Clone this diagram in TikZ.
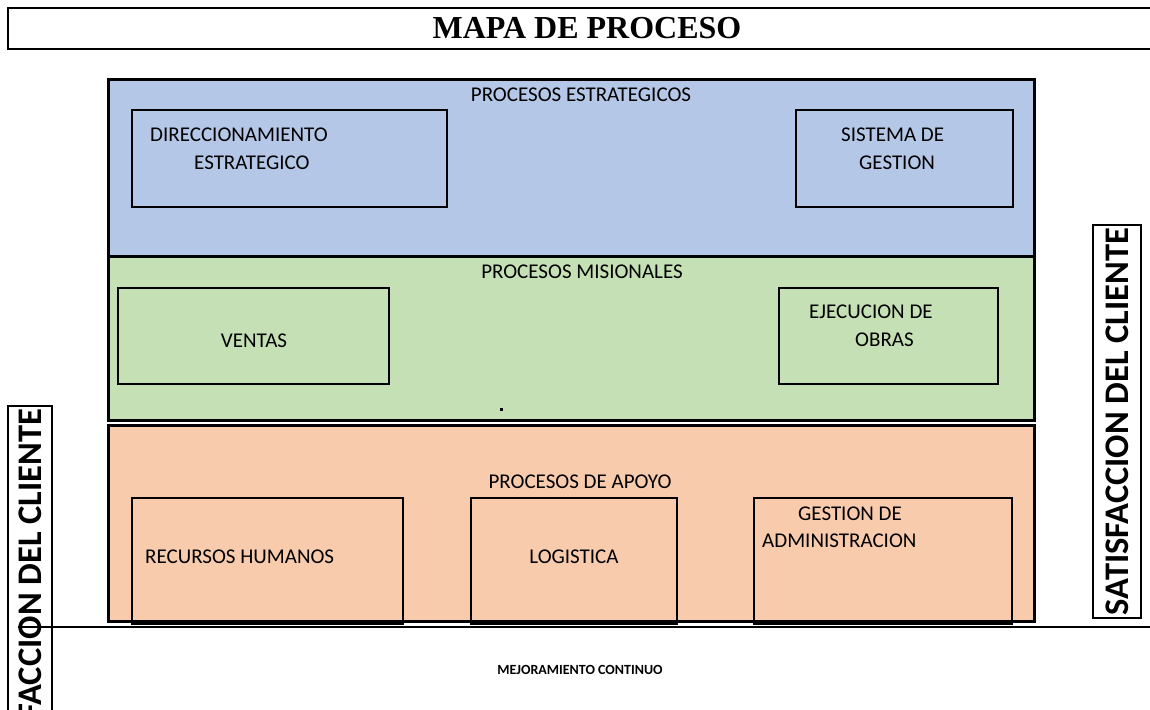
\documentclass[tikz,border=0pt]{standalone}
\usepackage{fontspec}
\setmainfont{Carlito}
\newfontfamily\titlefont{Liberation Serif}
\usetikzlibrary{positioning}
\definecolor{estrbg}{RGB}{180, 199, 231}
\definecolor{misbg}{RGB}{197, 224, 180}
\definecolor{apoyobg}{RGB}{248, 203, 173}
\tikzset{
  band/.style = {
    rectangle, draw=black, line width=3pt,
    fill=#1, minimum width=926pt, inner sep=0pt
  },
  band/.default = white,
  procbox/.style = {
    rectangle, draw=black, line width=1.6pt, inner sep=0pt
  },
  lbl/.style  = {font=\fontsize{21}{25}\selectfont, inner sep=0pt},
  sidelabel/.style = {
    draw=black, line width=2pt, rotate=90,
    font=\fontsize{34.5}{38}\selectfont\bfseries,
    inner xsep=3pt, inner ysep=0pt, minimum height=#1
  },
  sidelabel/.default = 46pt,
  titlebox/.style = {
    draw=black, line width=1.5pt, minimum width=1158pt,
    minimum height=41pt, font=\titlefont\fontsize{32}{36}\selectfont\bfseries
  },
}

\begin{document}
\begin{tikzpicture}[x=1pt, y=-1pt]

  \useasboundingbox (0,0) rectangle (1150,709);
  \clip (0,0) rectangle (1150,709);

  \node[titlebox] (titulo) at (587,28.5) {MAPA DE PROCESO};

  %% bands
  \node[band=estrbg, minimum height=177pt] (estr) at (571,167.5) {};
  \node[band=misbg, minimum height=164pt] (mis) at (571,338) {};
  \node[band=apoyobg, minimum height=196pt] (apoyo) at (571,523) {};

  \node[lbl] (testr) at (581,95) {PROCESOS ESTRATEGICOS};
  \node[lbl] (tmis) at (582,272) {PROCESOS MISIONALES};
  \node[lbl] (tapoyo) at (580,482) {PROCESOS DE APOYO};

  %% Estrategicos
  \node[procbox, minimum width=315pt, minimum height=97pt] (dir) at (289.5,158.5) {};
  \node[lbl, anchor=west] (dir1) at (150,134.5) {DIRECCIONAMIENTO};
  \node[lbl, anchor=west] (dir2) at (194,162.5) {ESTRATEGICO};
  \node[procbox, minimum width=217pt, minimum height=97pt] (sis) at (904.5,158.5) {};
  \node[lbl, anchor=west] (sis1) at (841,135) {SISTEMA DE};
  \node[lbl, anchor=west] (sis2) at (859,163) {GESTION};

  %% Misionales
  \node[procbox, minimum width=271pt, minimum height=96pt] (ven) at (253.5,336) {};
  \node[lbl] (ven1) at (254,341) {VENTAS};
  \node[procbox, minimum width=219pt, minimum height=96pt] (eje) at (888.5,336) {};
  \node[lbl, anchor=west] (eje1) at (809,312) {EJECUCION DE};
  \node[lbl, anchor=west] (eje2) at (855,340) {OBRAS};
  \fill (500,408) rectangle (503,411);

  %% Apoyo
  \node[procbox, minimum width=271pt, minimum height=126pt] (rh) at (267.5,561) {};
  \node[lbl, anchor=west] (rh1) at (145,557) {RECURSOS HUMANOS};
  \node[procbox, minimum width=206pt, minimum height=126pt] (log) at (574,561) {};
  \node[lbl] (log1) at (574,557) {LOGISTICA};
  \node[procbox, minimum width=258pt, minimum height=126pt] (adm) at (883,561) {};
  \node[lbl, anchor=west] (adm1) at (798,514) {GESTION DE};
  \node[lbl, anchor=west] (adm2) at (762,541) {ADMINISTRACION};

  %% cliente
  \node[sidelabel=44pt, anchor=east] (satizq) at (30,405) {SATISFACCION DEL CLIENTE};
  \node[sidelabel=48pt] (satder) at (1117,421.5) {SATISFACCION DEL CLIENTE};

  %% mejoramiento
  \coordinate (mejizq) at (18,627);
  \coordinate (mejder) at (1150,627);
  \draw[line width=2pt] (mejizq) -- (mejder);
  \node[font=\fontsize{14}{16}\selectfont\bfseries, inner sep=0pt] (mejora)
    at (580,670) {MEJORAMIENTO CONTINUO};

\end{tikzpicture}
\end{document}
